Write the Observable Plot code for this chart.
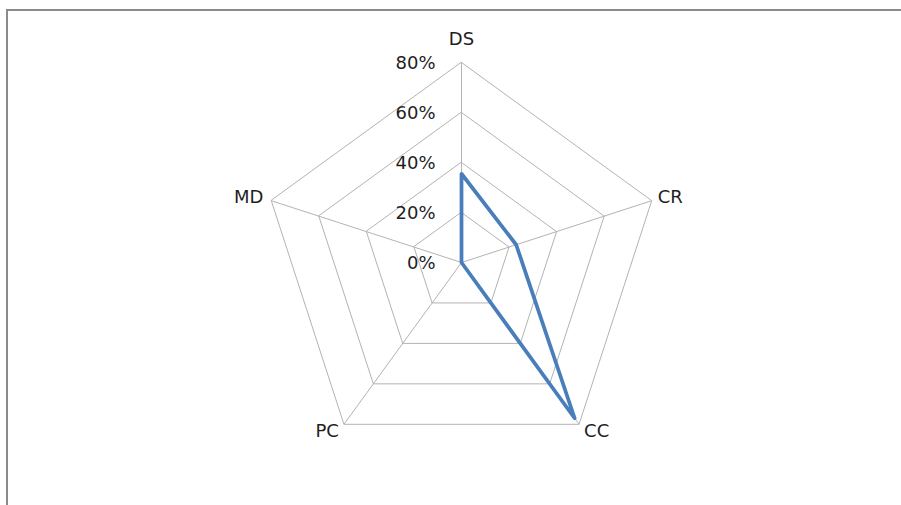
<!DOCTYPE html>
<html>
<head>
<meta charset="utf-8">
<script src="https://cdn.jsdelivr.net/npm/d3@7"></script>
<script src="https://cdn.jsdelivr.net/npm/@observablehq/plot@0.6"></script>
<style>
  html, body { margin: 0; padding: 0; background: #fff; }
  #wrap { position: relative; width: 901px; height: 505px; overflow: hidden; }
  #frame { position: absolute; left: 6px; top: 9px; width: 1000px; height: 1000px;
           border-top: 2px solid #8a8a8a; border-left: 2px solid #8a8a8a; pointer-events: none; }
</style>
</head>
<body>
<div id="wrap"><div id="frame"></div></div>
<script>
// Data
const categories = ["DS", "CR", "CC", "PC", "MD"];
const values = [35.5, 23, 77, 0, 0];          // percent
const tickLevels = [0, 20, 40, 60, 80];
const tickLabels = ["0%", "20%", "40%", "60%", "80%"];

// label offsets (style only)
const labelStyle = {
  DS: {anchor: "middle", dx: 0, dy: -23},
  CR: {anchor: "start", dx: 6, dy: -3},
  CC: {anchor: "start", dx: 5, dy: 7},
  PC: {anchor: "end", dx: -5, dy: 7},
  MD: {anchor: "end", dx: -8, dy: -3}
};

const angle = i => (i * 2 * Math.PI) / categories.length;
const px = (v, i) => v * Math.sin(angle(i));
const py = (v, i) => v * Math.cos(angle(i));
const maxV = tickLevels[tickLevels.length - 1];

const gridRows = tickLevels.flatMap(l => categories.map((c, i) => ({level: l, x: px(l, i), y: py(l, i)})));
const spokes = categories.map((c, i) => ({x: px(maxV, i), y: py(maxV, i)}));
const series = categories.map((c, i) => ({cat: c, x: px(values[i], i), y: py(values[i], i)}));
const labelRows = categories.map((c, i) => ({cat: c, x: px(maxV, i), y: py(maxV, i)}));
const tickRows = tickLevels.map((l, k) => ({label: tickLabels[k], x: 0, y: l}));

const font = "DejaVu Sans";
const textMarks = Object.keys(labelStyle).map(c =>
  Plot.text(labelRows.filter(d => d.cat === c), {
    x: "x", y: "y", text: "cat",
    textAnchor: labelStyle[c].anchor, dx: labelStyle[c].dx, dy: labelStyle[c].dy,
    fill: "#1e1e1e", fontSize: 18
  })
);

const chart = Plot.plot({
  width: 901,
  height: 505,
  margin: 0,
  style: {background: "transparent", fontFamily: font},
  x: {domain: [-461 / 2.5, 440 / 2.5], axis: null},
  y: {domain: [-(505 - 262) / 2.5, 262 / 2.5], axis: null},
  marks: [
    Plot.link(spokes, {x1: 0, y1: 0, x2: "x", y2: "y", stroke: "#b3b3b3", strokeWidth: 1}),
    Plot.line(gridRows, {x: "x", y: "y", z: "level", curve: "linear-closed", stroke: "#b3b3b3", strokeWidth: 1}),
    Plot.line(series, {x: "x", y: "y", curve: "linear-closed", stroke: "#4a7ebb", strokeWidth: 3.75, strokeLinejoin: "round"}),
    ...textMarks,
    Plot.text(tickRows, {x: "x", y: "y", text: "label", textAnchor: "end", dx: -26, dy: 1, fill: "#1e1e1e", fontSize: 18})
  ]
});
document.getElementById("wrap").insertBefore(chart, document.getElementById("frame"));
</script>
</body>
</html>
